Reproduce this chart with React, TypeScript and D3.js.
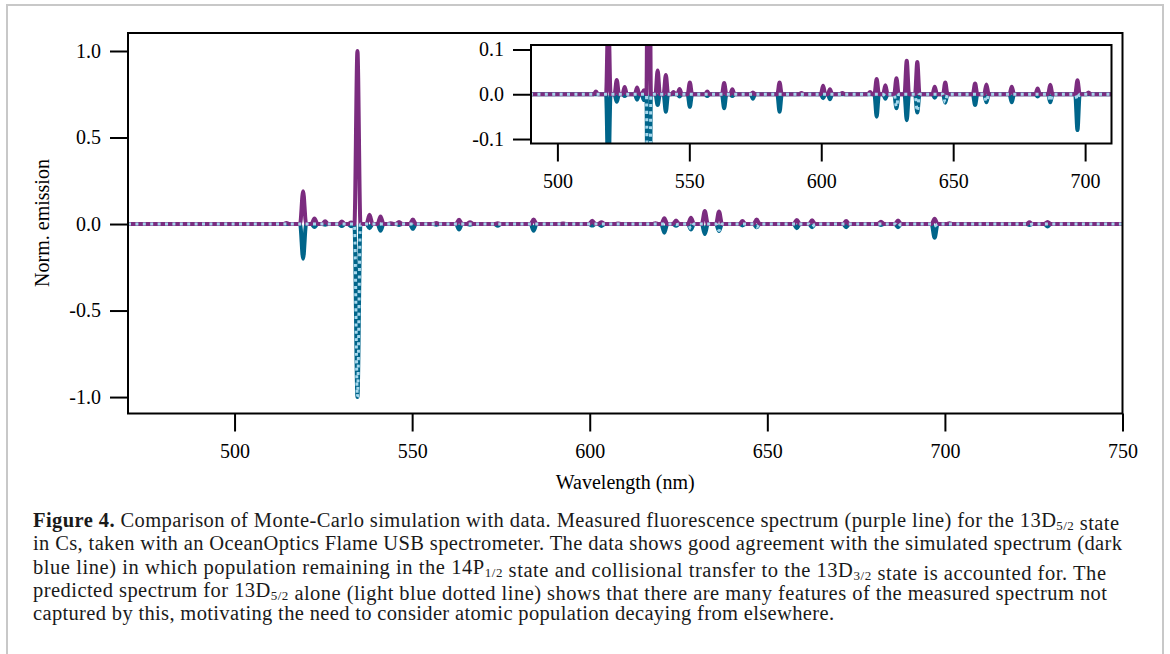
import React, { useEffect, useRef } from "react";
import * as d3 from "d3";

// line centres (nm) and normalised peak heights
// measured spectrum is drawn upwards, both simulations downwards (mirrored)
const peakWavelengths = [
  514.6, 519.3, 522.5, 525.5, 530.2, 532.8, 534.6, 538.0, 541.1, 544.0, 546.3,
  550.2, 556.8, 563.2, 566.3, 574.1, 584.2, 592.5, 600.7, 603.3, 608.0, 618.5,
  621.0, 624.3, 628.5, 632.4, 636.4, 643.0, 647.0, 658.3, 662.6, 672.2, 682.0,
  686.8, 697.1, 701.3, 723.8, 728.9,
];
const measured = [
  0.006, 0.19, 0.032, 0.016, 0.015, 0.009, 1.0, 0.053, 0.043, 0.005, 0.012,
  0.026, 0.006, 0.025, 0.011, 0.004, 0.026, 0.003, 0.019, 0.011, 0.003, 0.005,
  0.034, 0.02, 0.036, 0.075, 0.072, 0.017, 0.026, 0.024, 0.022, 0.017, 0.013,
  0.021, 0.031, 0.004, 0.01, 0.012,
];
const simulated = [
  0, -0.2, -0.017, -0.004, -0.012, -0.013, -1.0, -0.024, -0.039, 0, -0.005,
  -0.028, -0.004, -0.031, -0.004, -0.01, -0.039, 0, -0.009, -0.011, 0, 0,
  -0.05, -0.01, -0.031, -0.058, -0.041, -0.008, -0.019, -0.024, -0.018, -0.018,
  -0.005, -0.018, -0.08, 0, -0.006, -0.015,
];
const predicted = [
  0, 0, 0, 0, 0, 0, -1.0, 0, 0, 0, 0, 0, 0, 0, 0, 0, 0, 0, 0, 0, 0, 0, 0,
  -0.004, -0.028, 0, -0.038, 0, -0.018, 0, -0.017, 0, 0, -0.016, -0.012, 0,
  -0.005, 0,
];

const mainXTicks = [500, 550, 600, 650, 700, 750];
const mainYTicks = [-1, -0.5, 0, 0.5, 1];
const insetXTicks = [500, 550, 600, 650, 700];
const insetYTicks = [-0.1, 0, 0.1];

const PURPLE = "#7b2c7f";
const DARK_BLUE = "#00658a";
const LIGHT_BLUE = "#a6d8ed";
const FONT = "'Liberation Serif', 'DejaVu Serif', serif";
const HALF_WIDTH = 0.85; // nm, line profile half width

function peakSeries(heights: number[]): [number, number][] {
  const pts: [number, number][] = [[470, 0]];
  peakWavelengths.forEach((w, i) => {
    if (heights[i] === 0) return;
    pts.push([w - HALF_WIDTH, 0], [w, heights[i]], [w + HALF_WIDTH, 0]);
  });
  pts.push([750, 0]);
  return pts;
}

const fmt = (v: number) => (Math.abs(v) < 1e-9 ? "0.0" : v.toFixed(1));

function drawPanel(g, x, y, xTicks, yTicks, clipId, white) {
  const [x0, x1] = x.range();
  const [y0, y1] = y.range();

  if (white) {
    g.append("rect")
      .attr("x", x0).attr("y", y1)
      .attr("width", x1 - x0).attr("height", y0 - y1)
      .attr("fill", "white");
  }

  g.append("clipPath").attr("id", clipId)
    .append("rect")
    .attr("x", x0).attr("y", y1)
    .attr("width", x1 - x0).attr("height", y0 - y1);

  const lineGen = d3.line<[number, number]>()
    .x((d) => x(d[0]))
    .y((d) => y(d[1]))
    .curve(d3.curveMonotoneX);

  const plot = g.append("g").attr("clip-path", `url(#${clipId})`);

  plot.append("path")
    .attr("d", lineGen(peakSeries(simulated)))
    .attr("fill", "none").attr("stroke", DARK_BLUE)
    .attr("stroke-width", 4).attr("stroke-linejoin", "round");

  plot.append("path")
    .attr("d", lineGen(peakSeries(measured)))
    .attr("fill", "none").attr("stroke", PURPLE)
    .attr("stroke-width", 4).attr("stroke-linejoin", "round");

  plot.append("path")
    .attr("d", lineGen(peakSeries(predicted)))
    .attr("fill", "none").attr("stroke", LIGHT_BLUE)
    .attr("stroke-width", 3).attr("stroke-dasharray", "3,4.4");

  // axes
  const xAxis = g.append("g")
    .attr("transform", `translate(0,${y0})`)
    .call(d3.axisBottom(x).tickValues(xTicks).tickSize(18).tickPadding(12).tickFormat(d3.format("d")));
  const yAxis = g.append("g")
    .attr("transform", `translate(${x0},0)`)
    .call(d3.axisLeft(y).tickValues(yTicks).tickSize(18).tickPadding(9).tickFormat(fmt));

  [xAxis, yAxis].forEach((a) => {
    a.select(".domain").remove();
    a.attr("font-family", FONT).attr("font-size", 20);
    a.selectAll("line").attr("stroke", "#000").attr("stroke-width", 2);
    a.selectAll("text").attr("fill", "#000");
  });

  g.append("rect")
    .attr("x", x0).attr("y", y1)
    .attr("width", x1 - x0).attr("height", y0 - y1)
    .attr("fill", "none").attr("stroke", "#000").attr("stroke-width", 2);
}

export default function App() {
  const gRef = useRef<SVGGElement>(null);

  useEffect(() => {
    const g = d3.select(gRef.current);
    g.selectAll("*").remove();

    const x = d3.scaleLinear().domain([470, 750]).range([128, 1122.5]);
    const y = d3.scaleLinear().domain([-1.095, 1.104]).range([413.5, 33]);
    drawPanel(g.append("g"), x, y, mainXTicks, mainYTicks, "clip-main", false);

    g.append("text")
      .attr("x", (128 + 1122.5) / 2).attr("y", 489)
      .attr("text-anchor", "middle")
      .attr("font-family", FONT).attr("font-size", 20)
      .text("Wavelength (nm)");
    g.append("text")
      .attr("transform", "translate(49,223) rotate(-90)")
      .attr("text-anchor", "middle")
      .attr("font-family", FONT).attr("font-size", 20)
      .text("Norm. emission");

    const xi = d3.scaleLinear().domain([490, 710]).range([531, 1111.5]);
    const yi = d3.scaleLinear().domain([-0.11, 0.11]).range([143.5, 45]);
    drawPanel(g.append("g"), xi, yi, insetXTicks, insetYTicks, "clip-inset", true);
  }, []);

  const sub = (s: string) => (
    <>
      <tspan dy={3} fontSize={13}>{s}</tspan>
      <tspan dy={-3}></tspan>
    </>
  );

  return (
    <svg width={1170} height={654} style={{ position: "absolute", left: 0, top: 0, background: "white" }}>
      <rect x={7} y={5} width={1156} height={680} fill="white" stroke="#c8c8c8" strokeWidth={2} />
      <g ref={gRef} />
      <g fontFamily={FONT} fontSize={20.5} fill="#1a1a1a">
        <text x={33} y={527} textLength={1086} lengthAdjust="spacing">
          <tspan fontWeight="bold">Figure 4.</tspan> Comparison of Monte-Carlo simulation with data. Measured fluorescence spectrum (purple line) for the 13D{sub("5/2")} state
        </text>
        <text x={33} y={550.3} textLength={1089} lengthAdjust="spacing">
          in Cs, taken with an OceanOptics Flame USB spectrometer. The data shows good agreement with the simulated spectrum (dark
        </text>
        <text x={33} y={573.6} textLength={1073} lengthAdjust="spacing">
          blue line) in which population remaining in the 14P{sub("1/2")} state and collisional transfer to the 13D{sub("3/2")} state is accounted for. The
        </text>
        <text x={33} y={596.9} textLength={1074} lengthAdjust="spacing">
          predicted spectrum for 13D{sub("5/2")} alone (light blue dotted line) shows that there are many features of the measured spectrum not
        </text>
        <text x={33} y={620.2} textLength={801} lengthAdjust="spacing">
          captured by this, motivating the need to consider atomic population decaying from elsewhere.
        </text>
      </g>
    </svg>
  );
}
